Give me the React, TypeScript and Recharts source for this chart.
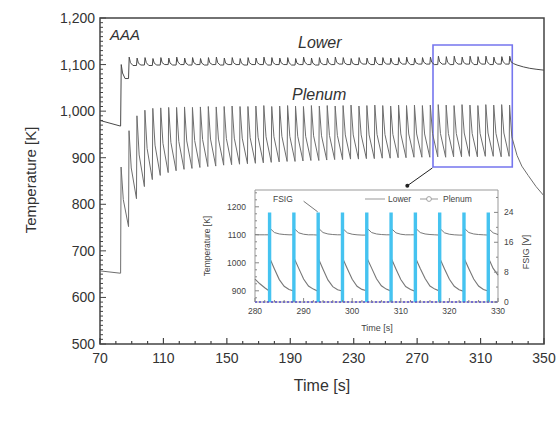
import React from 'react';
import {
  LineChart, ComposedChart, Line, XAxis, YAxis,
  ReferenceArea, ReferenceLine, ReferenceDot,
} from 'recharts';

// ---- main chart: one entry per ~5 s FSIG cycle ----
const cycleStart = [
  83, 88, 93, 98, 103, 108, 113, 118, 123, 128,
  133, 138, 143, 148, 153, 158, 163, 168, 173, 178,
  183, 188, 193, 198, 203, 208, 213, 218, 223, 228,
  233, 238, 243, 248, 253, 258, 263, 268, 273, 278,
  283, 288, 293, 298, 303, 308, 313, 318, 323, 328,
];
const plenumPeak = [
  880, 958, 990, 1002, 1006, 1007, 1008, 1008, 1009, 1008,
  1009, 1010, 1009, 1010, 1011, 1010, 1010, 1011, 1012, 1010,
  1011, 1012, 1011, 1010, 1012, 1011, 1012, 1011, 1012, 1013,
  1011, 1012, 1013, 1012, 1011, 1013, 1012, 1013, 1012, 1013,
  1014, 1013, 1012, 1014, 1013, 1012, 1014, 1013, 1014, 1013,
];
const plenumMid = [
  810, 878, 906, 920, 927, 931, 933, 935, 936, 937,
  939, 940, 940, 941, 942, 942, 943, 944, 945, 945,
  946, 946, 946, 946, 947, 947, 948, 948, 949, 949,
  949, 949, 950, 950, 950, 951, 951, 951, 951, 952,
  952, 952, 952, 953, 952, 952, 953, 952, 953, 945,
];
const plenumEnd = [
  752, 812, 838, 853, 862, 868, 872, 875, 877, 879,
  881, 882, 884, 885, 886, 887, 888, 889, 890, 891,
  892, 892, 893, 894, 894, 895, 896, 896, 897, 897,
  898, 898, 899, 899, 900, 900, 901, 901, 901, 902,
  901, 902, 902, 903, 902, 903, 903, 902, 903, 905,
];
const lowerPeak = [
  1100, 1116, 1114, 1115, 1113, 1115, 1114, 1116, 1114, 1115,
  1113, 1115, 1116, 1114, 1115, 1113, 1115, 1114, 1116, 1115,
  1114, 1115, 1113, 1116, 1114, 1115, 1114, 1116, 1115, 1113,
  1115, 1114, 1116, 1115, 1114, 1115, 1116, 1114, 1115, 1116,
  1118, 1117, 1118, 1116, 1118, 1117, 1118, 1116, 1117, 1118,
];
const lowerMid = [
  1082, 1104, 1103, 1104, 1103, 1104, 1103, 1105, 1103, 1104,
  1103, 1104, 1104, 1103, 1104, 1103, 1104, 1104, 1104, 1104,
  1104, 1104, 1103, 1105, 1103, 1104, 1104, 1105, 1104, 1103,
  1105, 1104, 1105, 1105, 1104, 1105, 1105, 1104, 1105, 1105,
  1106, 1105, 1106, 1105, 1106, 1105, 1106, 1105, 1106, 1106,
];
const lowerBase = [
  1070, 1098, 1099, 1098, 1099, 1100, 1099, 1100, 1099, 1100,
  1099, 1100, 1099, 1100, 1100, 1099, 1100, 1100, 1099, 1100,
  1100, 1099, 1100, 1100, 1099, 1100, 1100, 1101, 1100, 1100,
  1101, 1100, 1100, 1101, 1100, 1101, 1100, 1101, 1101, 1100,
  1101, 1100, 1101, 1101, 1100, 1101, 1100, 1101, 1101, 1102,
];
const leadTime = [70, 82.8];
const leadPlenum = [657, 652];
const leadLower = [980, 968];
const tailTime = [336, 340, 345, 350];
const tailPlenum = [882, 862, 838, 818];
const lowerTailTime = [333, 337, 341, 345, 350];
const lowerTail = [1099, 1095, 1092, 1090, 1088];

const mainXLabels = [70, 110, 150, 190, 230, 270, 310, 350];
const mainYLabels = [500, 600, 700, 800, 900, 1000, 1100, 1200];

// ---- inset (280-330 s) ----
const insetCycle = [283, 288, 293, 298, 303, 308, 313, 318, 323, 328];
const insetOffsets = [0, 0.15, 1, 2, 3, 4];
const insetPlenum = [
  [900, 1012, 978, 940, 916, 905],
  [899, 1013, 980, 942, 917, 906],
  [898, 1011, 977, 939, 915, 904],
  [899, 1012, 979, 941, 916, 905],
  [900, 1013, 981, 943, 918, 906],
  [899, 1012, 978, 940, 915, 905],
  [898, 1013, 980, 944, 917, 906],
  [899, 1011, 978, 941, 916, 904],
  [898, 1012, 979, 942, 917, 905],
  [899, 1013, 980, 956, 918, 906],
];
const insetLower = [
  [1100, 1122, 1108, 1103, 1101, 1100],
  [1100, 1121, 1107, 1102, 1100, 1100],
  [1099, 1122, 1108, 1103, 1101, 1100],
  [1100, 1121, 1107, 1102, 1100, 1099],
  [1099, 1122, 1108, 1103, 1101, 1100],
  [1100, 1121, 1107, 1102, 1100, 1100],
  [1100, 1122, 1108, 1103, 1101, 1100],
  [1099, 1121, 1107, 1102, 1100, 1099],
  [1099, 1122, 1108, 1103, 1101, 1100],
  [1099, 1121, 1107, 1101, 1100, 1100],
];
const insetLeadTime = [280, 281, 282, 282.7];
const insetLeadPlenum = [942, 925, 911, 902];
const insetLeadLower = [1101, 1100, 1100, 1100];
const fsigPulse = [24, 24, 24, 24, 24, 24, 24, 24, 24, 24];

const insetXLabels = [280, 290, 300, 310, 320, 330];
const insetTempLabels = [900, 1000, 1100, 1200];
const insetFsigLabels = [0, 8, 16, 24];

const range = (a: number, b: number, s: number) => {
  const out: number[] = [];
  for (let v = a; v <= b + 1e-9; v += s) out.push(Math.round(v * 100) / 100);
  return out;
};

// build table for main chart
const mainRows: any[] = [];
leadTime.forEach((t, i) => mainRows.push({ t, plenum: leadPlenum[i], lower: leadLower[i] }));
cycleStart.forEach((t0, k) => {
  mainRows.push({
    t: t0,
    plenum: k === 0 ? leadPlenum[1] : plenumEnd[k - 1],
    lower: k === 0 ? leadLower[1] : lowerBase[k - 1],
  });
  mainRows.push({ t: t0 + 0.3, plenum: plenumPeak[k] });
  mainRows.push({ t: t0 + 0.4, lower: lowerPeak[k] });
  mainRows.push({ t: t0 + 1.2, lower: lowerMid[k] });
  mainRows.push({ t: t0 + 1.7, plenum: plenumMid[k] });
  mainRows.push({ t: t0 + 2.8, lower: lowerBase[k] });
});
mainRows.push({ t: 333, plenum: plenumEnd[plenumEnd.length - 1] });
tailTime.forEach((t, i) => mainRows.push({ t, plenum: tailPlenum[i] }));
lowerTailTime.forEach((t, i) => mainRows.push({ t, lower: lowerTail[i] }));
mainRows.sort((a, b) => a.t - b.t);

// build table for inset; each pulse is a 0 -> value pair so the line breaks between pulses
const insetRows: any[] = [];
insetLeadTime.forEach((t, i) =>
  insetRows.push({ t, plenum: insetLeadPlenum[i], lower: insetLeadLower[i] }));
insetCycle.forEach((t0, k) => {
  insetOffsets.forEach((o, j) => {
    const t = t0 + o;
    if (t <= 330) insetRows.push({ t, plenum: insetPlenum[k][j], lower: insetLower[k][j] });
  });
  insetRows.push({ t: t0, fsig: 0 }, { t: t0, fsig: fsigPulse[k] });
});
insetRows.push({ t: 280, base: 0 }, { t: 330, base: 0 });
insetRows.sort((a, b) => a.t - b.t);

const AX = '#444';

const MainXTick = ({ x, y, payload }: any) => {
  const major = mainXLabels.includes(payload.value);
  return (
    <g>
      <line x1={x} x2={x} y1={y} y2={y - (major ? 6 : 3)} stroke={AX} strokeWidth={1.2} />
      {major && (
        <text x={x} y={y + 19} textAnchor="middle" fontSize={14} fill="#333">{payload.value}</text>
      )}
    </g>
  );
};

const MainYTick = ({ x, y, payload }: any) => {
  const major = mainYLabels.includes(payload.value);
  return (
    <g>
      <line x1={x} x2={x + (major ? 6 : 3)} y1={y} y2={y} stroke={AX} strokeWidth={1} />
      {major && (
        <text x={x - 5} y={y + 5} textAnchor="end" fontSize={14} fill="#333">
          {payload.value.toLocaleString('en-US')}
        </text>
      )}
    </g>
  );
};

const InsetXTick = ({ x, y, payload }: any) => {
  const major = insetXLabels.includes(payload.value);
  return (
    <g>
      <line x1={x} x2={x} y1={y} y2={y - (major ? 4 : 2)} stroke="#888" />
      {major && (
        <text x={x} y={y + 12} textAnchor="middle" fontSize={8.5} fill="#444">{payload.value}</text>
      )}
    </g>
  );
};

const InsetTempTick = ({ x, y, payload }: any) => {
  const major = insetTempLabels.includes(payload.value);
  return (
    <g>
      <line x1={x} x2={x + (major ? 4 : 2)} y1={y} y2={y} stroke="#888" />
      {major && (
        <text x={x - 9} y={y + 3} textAnchor="end" fontSize={8.5} fill="#444">{payload.value}</text>
      )}
    </g>
  );
};

const InsetFsigTick = ({ x, y, payload }: any) => {
  const major = insetFsigLabels.includes(payload.value);
  return (
    <g>
      <line x1={x} x2={x - (major ? 4 : 2)} y1={y} y2={y} stroke="#888" />
      {major && (
        <text x={x + 6} y={y + 3} textAnchor="start" fontSize={8.5} fill="#444">{payload.value}</text>
      )}
    </g>
  );
};

const abs = (left: number, top: number, extra: React.CSSProperties = {}): React.CSSProperties => ({
  position: 'absolute', left, top, lineHeight: 1, whiteSpace: 'nowrap', ...extra,
});

export default function App() {
  return (
    <div style={{
      position: 'absolute', left: 0, top: 0, width: 556, height: 422, background: '#fff',
      fontFamily: '"Liberation Sans", Arial, sans-serif', color: '#333',
    }}>
      <LineChart width={556} height={422} data={mainRows}
        margin={{ top: 18, right: 12, bottom: 48, left: 60 }}>
        <XAxis dataKey="t" type="number" domain={[70, 350]} ticks={range(70, 350, 10)}
          interval={0} axisLine={false} tickLine={false} tickSize={0} tickMargin={0}
          height={30} tick={<MainXTick />} />
        <YAxis type="number" domain={[500, 1200]} ticks={range(500, 1200, 10)}
          interval={0} axisLine={false} tickLine={false} tickSize={0} tickMargin={0}
          width={40} tick={<MainYTick />} />
        <ReferenceArea x1={70} x2={350} y1={500} y2={1200} fill="none" stroke={AX} strokeWidth={1.5} />
        <ReferenceArea x1={280} x2={330} y1={880} y2={1142} fill="none" stroke="#7676ee" strokeWidth={1.6} />
        <ReferenceLine segment={[{ x: 279.6, y: 878 }, { x: 263.5, y: 839 }]} stroke="#222" strokeWidth={1} />
        <ReferenceDot x={263.8} y={840} r={2} fill="#222" stroke="none" />
        <Line dataKey="plenum" type="linear" stroke="#6e6e6e" strokeWidth={1} dot={false}
          connectNulls isAnimationActive={false} />
        <Line dataKey="lower" type="linear" stroke="#4a4a4a" strokeWidth={1} dot={false}
          connectNulls isAnimationActive={false} />
      </LineChart>

      <div style={abs(110, 27, { fontSize: 15, fontStyle: 'italic', color: '#333' })}>AAA</div>
      <div style={abs(298, 35, { fontSize: 16, fontStyle: 'italic', color: '#333' })}>Lower</div>
      <div style={abs(292, 87, { fontSize: 16, fontStyle: 'italic', color: '#333' })}>Plenum</div>
      <div style={abs(30, 180, { fontSize: 15, transform: 'translate(-50%, -50%) rotate(-90deg)' })}>
        Temperature [K]
      </div>
      <div style={abs(322, 386, { fontSize: 16, transform: 'translate(-50%, -50%)' })}>Time [s]</div>

      <div style={{ position: 'absolute', left: 190, top: 180, width: 350, height: 155 }}>
        <ComposedChart width={350} height={155} data={insetRows}
          margin={{ top: 10, right: 12, bottom: 13, left: 35 }}>
          <XAxis dataKey="t" type="number" domain={[280, 330]} ticks={range(280, 330, 2)}
            interval={0} axisLine={false} tickLine={false} tickSize={0} tickMargin={0}
            height={20} tick={<InsetXTick />} />
          <YAxis yAxisId="temp" type="number" domain={[860, 1260]} ticks={range(875, 1250, 25)}
            interval={0} axisLine={false} tickLine={false} tickSize={0} tickMargin={0}
            width={30} tick={<InsetTempTick />} />
          <YAxis yAxisId="fsig" orientation="right" type="number" domain={[0, 30]} ticks={range(0, 28, 4)}
            interval={0} axisLine={false} tickLine={false} tickSize={0} tickMargin={0}
            width={30} tick={<InsetFsigTick />} />
          <ReferenceArea yAxisId="temp" x1={280} x2={330} y1={860} y2={1260} fill="#fff" fillOpacity={0}
            stroke="#999" strokeWidth={1} />
          <ReferenceLine yAxisId="temp" segment={[{ x: 290.0, y: 1220 }, { x: 292.9, y: 1182 }]}
            stroke="#555" strokeWidth={0.8} />
          <Line yAxisId="temp" dataKey="lower" type="linear" stroke="#6a6a6a" strokeWidth={0.9}
            dot={false} connectNulls isAnimationActive={false} />
          <Line yAxisId="temp" dataKey="plenum" type="linear" stroke="#777" strokeWidth={1.1}
            dot={false} connectNulls isAnimationActive={false} />
          <Line yAxisId="fsig" dataKey="fsig" type="linear" stroke="#45c3f0" strokeWidth={3.4}
            strokeLinecap="butt" dot={false} connectNulls={false} isAnimationActive={false} />
          <Line yAxisId="fsig" dataKey="base" stroke="#5a4fd0" strokeWidth={1.3} strokeDasharray="2 2"
            dot={false} connectNulls isAnimationActive={false} />
        </ComposedChart>
      </div>

      <div style={abs(273, 195, { fontSize: 8.5, color: '#444' })}>FSIG</div>
      <svg style={{ position: 'absolute', left: 362, top: 194 }} width={80} height={10}>
        <line x1={3} x2={23} y1={5} y2={5} stroke="#aaa" strokeWidth={1.2} />
        <line x1={58} x2={76} y1={5} y2={5} stroke="#aaa" strokeWidth={1.2} />
        <circle cx={67} cy={5} r={2.4} fill="#fff" stroke="#999" strokeWidth={0.9} />
      </svg>
      <div style={abs(388, 195, { fontSize: 8.5, color: '#444' })}>Lower</div>
      <div style={abs(443, 195, { fontSize: 8.5, color: '#444' })}>Plenum</div>
      <div style={abs(207, 246, { fontSize: 8.5, color: '#444', transform: 'translate(-50%, -50%) rotate(-90deg)' })}>
        Temperature [K]
      </div>
      <div style={abs(526, 252, { fontSize: 9, color: '#444', transform: 'translate(-50%, -50%) rotate(-90deg)' })}>
        FSIG [V]
      </div>
      <div style={abs(377, 328, { fontSize: 9, color: '#444', transform: 'translate(-50%, -50%)' })}>
        Time [s]
      </div>
    </div>
  );
}
